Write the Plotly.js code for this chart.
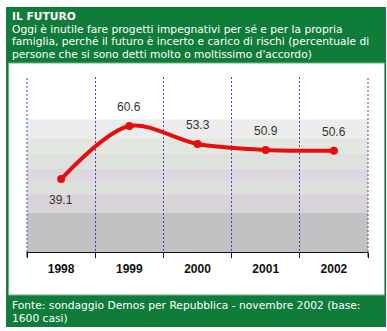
<!DOCTYPE html>
<html><head><meta charset="utf-8">
<script src="https://cdn.plot.ly/plotly-3.0.1.min.js"></script>
<style>html,body{margin:0;padding:0;background:#fff}#c{width:387px;height:331px}</style>
</head><body><div id="c"></div>
<script>
const years = ['1998','1999','2000','2001','2002'];
const values = [39.1, 60.6, 53.3, 50.9, 50.6];
const titleText = 'IL FUTURO';
const subtitleLines = [
  'Oggi è inutile fare progetti impegnativi per sé e per la propria',
  'famiglia, perché il futuro è incerto e carico di rischi (percentuale di',
  "persone che si sono detti molto o moltissimo d'accordo)"
];
const sourceLines = [
  'Fonte: sondaggio Demos per Repubblica - novembre 2002 (base:',
  '1600 casi)'
];

// layout geometry (pixels)
const W = 387, H = 331, L = 27, R = 368, T = 77, B = 252;
const px = X => (X - L) / (R - L);
const py = Y => (B - Y) / (B - T);
const GREEN = '#0f7c3a';
const GRID = '#4444b0';

const bands = [
  [55.7, 63.4, '#ececec'],
  [49.6, 55.7, '#e2e7e0'],
  [43.5, 49.6, '#dfe1de'],
  [37.9, 43.5, '#ddd8dd'],
  [32.6, 37.9, '#dbe1da'],
  [25.3, 32.6, '#d9d3d9'],
  [9.5, 25.3, '#c2c2c2']
];

const shapes = [
  {type:'rect', xref:'paper', yref:'paper', x0:px(6), x1:px(386), y0:py(327), y1:py(7), fillcolor:GREEN, line:{width:0}, layer:'below'},
  {type:'rect', xref:'paper', yref:'paper', x0:px(8.5), x1:px(384.5), y0:py(295), y1:py(63), fillcolor:'#ffffff', line:{width:1, color:'#6fb48a'}, layer:'below'}
];
bands.forEach(b => shapes.push({type:'rect', xref:'paper', yref:'y', x0:0, x1:1, y0:b[0], y1:b[1], fillcolor:b[2], line:{width:0}, layer:'below'}));
// edge grid lines and ticks (plot-area boundaries)
[0, 1].forEach(e => {
  shapes.push({type:'line', xref:'paper', yref:'paper', x0:e, x1:e, y0:0, y1:1, line:{color:GRID, width:1, dash:'2px,2px'}, layer:'below'});
  shapes.push({type:'line', xref:'paper', yref:'paper', x0:e, x1:e, y0:0, y1:py(B+5), line:{color:'#111', width:1}, layer:'above'});
});

const annotations = [];
const hdrFont = {family:'DejaVu Sans', size:10.7, color:'#ffffff'};
annotations.push({xref:'paper', yref:'paper', x:px(10), y:py(16.5), xanchor:'left', yanchor:'middle', showarrow:false, text:'<b>'+titleText+'</b>', font:hdrFont});
subtitleLines.forEach((t,i) => annotations.push({xref:'paper', yref:'paper', x:px(10), y:py(29 + 12.5*i), xanchor:'left', yanchor:'middle', showarrow:false, text:t, font:hdrFont}));
sourceLines.forEach((t,i) => annotations.push({xref:'paper', yref:'paper', x:px(10), y:py(305 + 13*i), xanchor:'left', yanchor:'middle', showarrow:false, text:t, font:hdrFont}));
values.forEach((v,i) => annotations.push({x:i, y:v, xref:'x', yref:'y', showarrow:false, text:v.toFixed(1), yshift: i===0 ? -21 : 19, font:{family:'Liberation Sans, Arial', size:12, color:'#333333'}}));

const trace = {
  x: years, y: values, type:'scatter', mode:'lines+markers',
  line:{color:'#e80c0c', width:4, shape:'spline', smoothing:0.9},
  marker:{color:'#e80c0c', size:8},
  hoverinfo:'skip'
};

const layout = {
  width:W, height:H,
  margin:{l:L, r:W-R, t:T, b:H-B, pad:0},
  paper_bgcolor:'#ffffff', plot_bgcolor:'rgba(0,0,0,0)',
  showlegend:false,
  xaxis:{type:'category', range:[-0.5,4.5], tickson:'boundaries', showgrid:true, gridcolor:GRID, griddash:'2px,2px', gridwidth:1,
         showline:true, linecolor:'#111', linewidth:1, ticks:'outside', ticklen:5, tickcolor:'#111',
         tickfont:{family:'Liberation Sans, Arial', size:12, color:'#111', weight:'bold'}, ticklabelstandoff:6, zeroline:false, fixedrange:true},
  yaxis:{range:[9.5,80.5], visible:false, showgrid:false, zeroline:false, fixedrange:true},
  shapes: shapes,
  annotations: annotations
};
Plotly.newPlot('c', [trace], layout, {staticPlot:true, displayModeBar:false});
</script></body></html>
